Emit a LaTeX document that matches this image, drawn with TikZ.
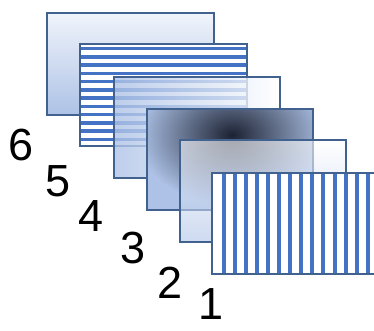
\documentclass[tikz,border=0pt]{standalone}
\usepackage{fontspec}
\setmainfont{Liberation Sans}
\definecolor{frameblue}{HTML}{41618F}
\definecolor{stripeblue}{HTML}{4472C4}
\definecolor{paleblue}{HTML}{ADC2E6}
\definecolor{iceblue}{HTML}{F0F4FB}
\definecolor{inkblob}{HTML}{1C2233}
\tikzset{
  layer/.style={draw=frameblue, line width=1.6pt},
  num/.style={font=\fontsize{45}{45}\selectfont, inner sep=0pt}
}
\begin{document}
\begin{tikzpicture}[x=1pt,y=-1pt]
\useasboundingbox (0,0) rectangle (374,331);
\coordinate (A6) at (47,13);
\coordinate (B6) at (214,115);
\coordinate (A5) at (80,44);
\coordinate (B5) at (247,146);
\coordinate (A4) at (114,77);
\coordinate (B4) at (280,178);
\coordinate (A3) at (147,109);
\coordinate (B3) at (313,210);
\coordinate (A2) at (180,140);
\coordinate (B2) at (346,242);
\coordinate (A1) at (212,173);
\coordinate (B1) at (379,274);

% layer 6: plain gradient
\shade[top color=iceblue, bottom color=paleblue] (A6) rectangle (B6);
\draw[layer] (A6) rectangle (B6);

% layer 5: horizontal stripes
\fill[white] (A5) rectangle (B5);
\foreach \i in {0,...,11}
  \fill[stripeblue] (80,{47+8.25*\i}) rectangle (247,{50.5+8.25*\i});
\draw[layer] (A5) rectangle (B5);

% layer 4: see-through
\shade[left color=paleblue, right color=white, opacity=0.8] (A4) rectangle (B4);
\draw[layer] (A4) rectangle (B4);

% layer 3: dark blob
\fill[paleblue] (A3) rectangle (B3);
\begin{scope}
\clip (A3) rectangle (B3);
\shade[inner color=inkblob, outer color=paleblue] (232,135) ellipse (95 and 70);
\end{scope}
\draw[layer] (A3) rectangle (B3);

% layer 2: see-through
\shade[top color=white, bottom color=paleblue, opacity=0.6] (A2) rectangle (B2);
\draw[layer] (A2) rectangle (B2);

% layer 1: vertical stripes
\fill[white] (A1) rectangle (B1);
\foreach \i in {0,...,14}
  \fill[stripeblue] ({221.5+11.1*\i},173) rectangle ({225.5+11.1*\i},274);
\draw[layer] (A1) rectangle (B1);

\node[num] (n6) at (21,145) {6};
\node[num] (n5) at (58,181) {5};
\node[num] (n4) at (91,216) {4};
\node[num] (n3) at (133,248) {3};
\node[num] (n2) at (170,283) {2};
\node[num] (n1) at (211,304) {1};
\end{tikzpicture}
\end{document}
